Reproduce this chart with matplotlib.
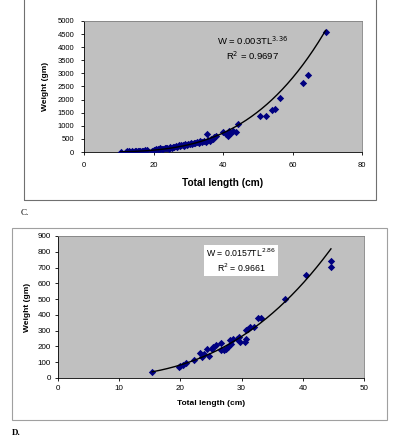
import numpy as np
import matplotlib
matplotlib.use("Agg")
import matplotlib.pyplot as plt
from matplotlib.patches import Rectangle

plt.rcParams['font.family'] = ['Liberation Sans', 'DejaVu Sans']

# panel C data (total length cm, weight gm)
c_len = [10.5, 12.0, 12.5, 13.0, 13.3, 13.8, 14.2, 14.6, 15.0, 15.4, 15.8, 16.2, 16.6, 17.0,
         17.5, 18.0, 19.5, 20.0, 20.4, 20.8, 21.2, 21.6, 22.0, 22.4, 22.8, 23.2, 23.6, 24.0,
         24.4, 24.8, 25.2, 25.6, 26.0, 26.4, 26.8, 27.2, 27.6, 28.0, 28.4, 28.8, 29.2, 29.6,
         30.0, 30.4, 30.8, 31.2, 31.6, 32.0, 32.5, 33.0, 33.5, 34.0, 34.5, 35.0, 35.5, 35.8,
         36.2, 36.6, 37.0, 37.5, 38.0, 40.0, 40.8, 41.3, 41.8, 42.2, 43.0, 43.6, 44.4,
         50.5, 52.5, 54.0, 55.0, 56.5, 63.0, 64.5, 69.5]
c_wt = [0, 5, 20, 35, 10, 40, 15, 30, 45, 20, 35, 25, 50, 40,
        60, 80, 30, 90, 60, 120, 100, 80, 150, 110, 130, 170, 140, 160,
        120, 190, 170, 210, 180, 240, 200, 260, 230, 250, 280, 240, 300, 270,
        310, 290, 340, 320, 360, 330, 380, 350, 410, 370, 430, 400, 700, 450,
        420, 480, 500, 560, 600, 750, 680, 600, 800, 730, 820, 760, 1050,
        1370, 1370, 1620, 1650, 2070, 2620, 2930, 4580]

# panel D data
d_len = [15.4, 19.7, 20.0, 20.4, 20.9, 22.3, 23.2, 23.5, 23.8, 24.3, 24.6, 25.1, 25.4,
         25.9, 26.6, 26.7, 27.1, 27.4, 27.8, 28.1, 28.3, 28.6, 29.3, 29.5, 29.7, 30.5,
         30.7, 30.7, 31.1, 31.4, 32.0, 32.6, 33.2, 37.1, 40.5, 44.6, 44.6]
d_wt = [38, 70, 74, 85, 97, 116, 158, 133, 150, 184, 140, 186, 197,
        209, 222, 175, 180, 182, 197, 243, 213, 249, 247, 260, 228, 228,
        249, 302, 313, 323, 323, 382, 382, 503, 655, 704, 740]

c_fit = (0.003, 3.36)
d_fit = (0.0157, 2.86)

fig = plt.figure(figsize=(3.95, 4.42), dpi=100)

# outer chart frames
fig.patches.append(Rectangle((0.0608, 0.5475), 0.891, 0.47, transform=fig.transFigure,
                             fill=False, edgecolor='#707070', lw=0.8))
fig.patches.append(Rectangle((0.0304, 0.0498), 0.949, 0.4344, transform=fig.transFigure,
                             fill=False, edgecolor='#a0a0a0', lw=0.8))


def panel(rect, xs, ys, fit, xlim, ylim, xstep, ystep, eq, r2, boxed, tx, ty,
          tick_fs, xl_fs, eq_fs, ms, tpad, xlpad, ylpad):
    ax = fig.add_axes(rect)
    ax.set_facecolor('#c0c0c0')
    ax.scatter(xs, ys, marker='D', s=ms, color='#000080', zorder=3, linewidths=0)
    t = np.linspace(min(xs), max(xs), 200)
    ax.plot(t, fit[0] * t ** fit[1], color='black', lw=1.0, zorder=4)
    ax.set_xlim(*xlim)
    ax.set_ylim(*ylim)
    ax.set_xticks(np.arange(xlim[0], xlim[1] + 1, xstep))
    ax.set_yticks(np.arange(ylim[0], ylim[1] + 1, ystep))
    ax.tick_params(labelsize=tick_fs, length=2, width=0.6, pad=tpad)
    for s in ['top', 'right']:
        ax.spines[s].set_color('#808080')
        ax.spines[s].set_linewidth(0.6)
    for s in ['left', 'bottom']:
        ax.spines[s].set_linewidth(0.6)
    ax.set_xlabel('Total length (cm)', fontsize=xl_fs, fontweight='bold', labelpad=xlpad)
    ax.set_ylabel('Weight (gm)', fontsize=6, fontweight='bold', labelpad=ylpad)
    kw = dict(transform=ax.transAxes, ha='center', va='center', fontsize=eq_fs, zorder=5)
    txt = eq + '\n' + r2
    if boxed:
        ax.text(tx, ty, txt, linespacing=1.3,
                bbox=dict(facecolor='white', edgecolor='none', pad=1.2), **kw)
    else:
        ax.text(tx, ty, txt, linespacing=1.2, **kw)
    return ax


panel([0.2127, 0.6561, 0.7038, 0.2964], c_len, c_wt, c_fit, (0, 80), (0, 5000), 20, 500,
      r'W = 0.003TL$^{3.36}$', r'R$^2$ = 0.9697', False, 0.605, 0.79,
      5.5, 7.3, 6.8, 14, 5, 7, 6)
panel([0.1468, 0.1448, 0.7747, 0.3213], d_len, d_wt, d_fit, (0, 50), (0, 900), 10, 100,
      r'W = 0.0157TL$^{2.86}$', r'R$^2$ = 0.9661', True, 0.598, 0.83,
      5.8, 6, 6.3, 14, 3, 6, 5)

fig.text(0.052, 0.518, 'C.', family=['Liberation Serif', 'DejaVu Serif'], fontsize=6.5,
         va='center')
fig.text(0.030, 0.020, 'D.', family=['Liberation Serif', 'DejaVu Serif'], fontsize=6.5,
         fontweight='bold', va='center')

fig.savefig('out.png', dpi=100)
